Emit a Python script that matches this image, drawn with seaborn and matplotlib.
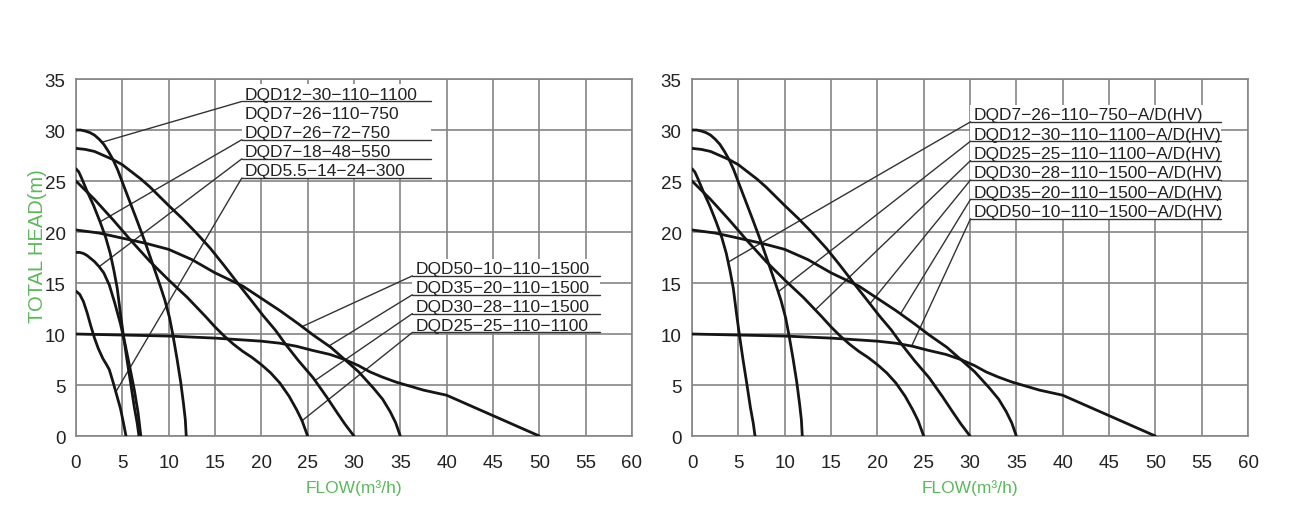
import numpy as np
import matplotlib
matplotlib.use("Agg")
import matplotlib.pyplot as plt
import seaborn as sns
from matplotlib.patches import Rectangle

# pump curves: flow (m3/h) and total head (m)
flow_5_5_14 = [0, 0.4, 0.8, 1.2, 1.6, 2.0, 2.4, 2.9, 3.3, 3.6, 4.0, 4.4, 4.8, 5.1, 5.4]
head_5_5_14 = [14.2, 13.9, 13.2, 12.1, 10.8, 9.6, 8.6, 7.6, 7.0, 6.5, 5.3, 4.0, 2.7, 1.4, 0]

flow_7_18 = [0, 0.4, 0.8, 1.2, 1.6, 2.0, 2.5, 3.0, 3.6, 4.2, 4.8, 5.3, 5.8, 6.3, 6.7, 7.0]
head_7_18 = [18.0, 18.0, 17.9, 17.7, 17.4, 17.1, 16.6, 16.0, 14.8, 13.0, 11.0, 9.0, 6.8, 4.5, 2.3, 0]

flow_7_26 = [0, 0.3, 0.6, 1.2, 1.9, 2.6, 3.2, 3.7, 4.1, 4.45, 4.8, 5.1, 5.5, 5.9, 6.3, 6.6, 6.8]
head_7_26 = [26.2, 25.9, 25.3, 24.0, 22.6, 21.0, 19.5, 17.9, 16.2, 14.5, 12.0, 10.0, 7.5, 5.2, 2.8, 1.3, 0]

flow_12_30 = [0, 0.5, 1, 1.5, 2, 2.5, 3, 3.5, 4, 4.5, 5, 5.8, 6.6, 7.5, 8.3, 9.1, 9.6,
              10.1, 10.5, 10.9, 11.3, 11.6, 11.8, 11.9]
head_12_30 = [30.0, 30.0, 29.9, 29.75, 29.5, 29.1, 28.6, 27.9, 27.1, 26.1, 24.9, 23.0, 21.1,
              18.9, 16.8, 14.7, 13.3, 11.6, 9.7, 7.6, 5.3, 3.2, 1.6, 0]

flow_25_25 = [0, 2, 4, 6, 8, 10, 12, 14, 15, 16, 17, 18, 19, 20, 21, 22, 23, 23.8, 24.4, 25]
head_25_25 = [25.0, 23.2, 21.2, 19.1, 17.1, 15.3, 13.6, 11.7, 10.7, 9.8, 9.0, 8.3, 7.7, 7.0,
              6.2, 5.2, 3.9, 2.6, 1.5, 0]

flow_30_28 = [0, 1, 2, 3, 4, 5, 6, 7, 8, 9, 10, 11.5, 13, 14.5, 16, 17.7, 19, 20.2, 21.5,
              22.7, 24, 25.6, 27, 28.1, 29, 30]
head_30_28 = [28.2, 28.1, 27.9, 27.5, 27.1, 26.6, 25.9, 25.2, 24.4, 23.5, 22.6, 21.3, 19.9,
              18.4, 16.7, 14.7, 13.2, 11.8, 10.4, 8.9, 7.4, 5.7, 3.9, 2.4, 1.2, 0]

flow_35_20 = [0, 2.5, 5, 7.5, 10, 12.5, 15, 18, 20, 22, 24, 25.6, 27.5, 29, 30.5, 32.1,
              33.1, 33.9, 34.5, 35]
head_35_20 = [20.2, 19.9, 19.4, 18.9, 18.3, 17.3, 16.0, 14.7, 13.5, 12.3, 11.0, 9.9, 8.7,
              7.5, 6.3, 4.7, 3.6, 2.4, 1.3, 0]

flow_50_10 = [0, 5, 10, 15, 20, 22, 23.8, 25.5, 27.4, 29, 30.5, 31.7, 33, 34.5, 36, 37.5,
              39, 40, 41, 42.5, 44, 45.5, 47, 48.5, 50]
head_50_10 = [10.0, 9.9, 9.8, 9.6, 9.3, 9.1, 8.8, 8.4, 8.0, 7.5, 6.9, 6.3, 5.8, 5.3, 4.9,
              4.5, 4.2, 4.0, 3.6, 3.0, 2.4, 1.8, 1.2, 0.6, 0]

curves = {
    "5.5-14": (flow_5_5_14, head_5_5_14),
    "7-18": (flow_7_18, head_7_18),
    "7-26": (flow_7_26, head_7_26),
    "12-30": (flow_12_30, head_12_30),
    "25-25": (flow_25_25, head_25_25),
    "30-28": (flow_30_28, head_30_28),
    "35-20": (flow_35_20, head_35_20),
    "50-10": (flow_50_10, head_50_10),
}

left_models = ["5.5-14", "7-18", "7-26", "12-30", "25-25", "30-28", "35-20", "50-10"]
right_models = ["7-26", "12-30", "25-25", "30-28", "35-20", "50-10"]

# labels, the curve each leader points to and the flow where it touches
left_top_labels = ["DQD12−30−110−1100", "DQD7−26−110−750", "DQD7−26−72−750",
                   "DQD7−18−48−550", "DQD5.5−14−24−300"]
left_top_targets = ["12-30", None, "7-26", "7-18", "5.5-14"]
left_top_tipflow = [2.8, None, 2.6, 2.5, 4.3]

left_bot_labels = ["DQD50−10−110−1500", "DQD35−20−110−1500",
                   "DQD30−28−110−1500", "DQD25−25−110−1100"]
left_bot_targets = ["35-20", "35-20", "30-28", "25-25"]
left_bot_tipflow = [24.4, 27.3, 25.8, 24.4]

right_labels = ["DQD7−26−110−750−A/D(HV)", "DQD12−30−110−1100−A/D(HV)",
                "DQD25−25−110−1100−A/D(HV)", "DQD30−28−110−1500−A/D(HV)",
                "DQD35−20−110−1500−A/D(HV)", "DQD50−10−110−1500−A/D(HV)"]
right_targets = ["7-26", "12-30", "25-25", "30-28", "35-20", "50-10"]
right_tipflow = [3.9, 9.3, 13.3, 19.2, 22.5, 23.7]

green = "#5cb85c"
gridc = "#858585"
ink = "#222222"

sns.set_style("white")
plt.rcParams['font.family'] = ['Liberation Sans', 'DejaVu Sans']

fig = plt.figure(figsize=(13.03, 5.10), dpi=100)
ax1 = fig.add_axes([0.0583, 0.1431, 0.4267, 0.70])
ax2 = fig.add_axes([0.5311, 0.1431, 0.4267, 0.70])


def style_axis(ax):
    ax.set_xlim(0, 60)
    ax.set_ylim(0, 35)
    ax.set_xticks(range(0, 61, 5))
    ax.set_yticks(range(0, 36, 5))
    ax.grid(True, color=gridc, linewidth=1.2)
    ax.set_axisbelow(True)
    for s in ax.spines.values():
        s.set_color(gridc)
        s.set_linewidth(1.2)
    ax.tick_params(axis='y', length=6, width=1.2, color=gridc, labelcolor=ink,
                   labelsize=13.5, pad=1.5)
    ax.tick_params(axis='x', length=3, width=1.2, color=gridc, labelcolor=ink,
                   labelsize=13.5, pad=10)
    ax.set_xlabel("FLOW(m³/h)", color=green, fontsize=12.5)
    ax.xaxis.set_label_coords(0.5, -0.12)
    ax.set_ylabel("")


def draw_curves(ax, models):
    for m in models:
        f, h = curves[m]
        sns.lineplot(x=f, y=h, ax=ax, color="#151515", linewidth=2.0,
                     sort=False, estimator=None, zorder=3,
                     solid_joinstyle="round", solid_capstyle="round")


def label_block(ax, labels, targets, tipflow, x0, x1, y_first, step, box_top):
    ys = [y_first - i * step for i in range(len(labels))]
    ax.add_patch(Rectangle((x0, ys[-1]), x1 - x0, box_top - ys[-1],
                           facecolor="white", edgecolor="none", zorder=1.5))
    for lab, tgt, tf, y in zip(labels, targets, tipflow, ys):
        ax.text(x0 + 0.35, y + 0.25, lab, fontsize=12.5, color=ink,
                va="baseline", ha="left", zorder=4)
        if tgt is None:
            continue
        f, h = curves[tgt]
        ty = np.interp(tf, f, h)
        ax.plot([x0, x1], [y, y], color="#333333", linewidth=1.0, zorder=2.5)
        ax.plot([x0, tf], [y, ty], color="#333333", linewidth=1.0, zorder=2.5)


style_axis(ax1)
style_axis(ax2)
ax1.set_ylabel("TOTAL HEAD(m)", color=green, fontsize=14.5)
ax1.yaxis.set_label_coords(-0.052, 0.535)

draw_curves(ax1, left_models)
draw_curves(ax2, right_models)

label_block(ax1, left_top_labels, left_top_targets, left_top_tipflow,
            17.9, 38.3, 32.8, 1.875, 34.5)
label_block(ax1, left_bot_labels, left_bot_targets, left_bot_tipflow,
            36.3, 56.6, 15.7, 1.85, 17.4)
label_block(ax2, right_labels, right_targets, right_tipflow,
            30.05, 57.1, 30.8, 1.9, 32.5)

fig.savefig("out.png", dpi=100)
